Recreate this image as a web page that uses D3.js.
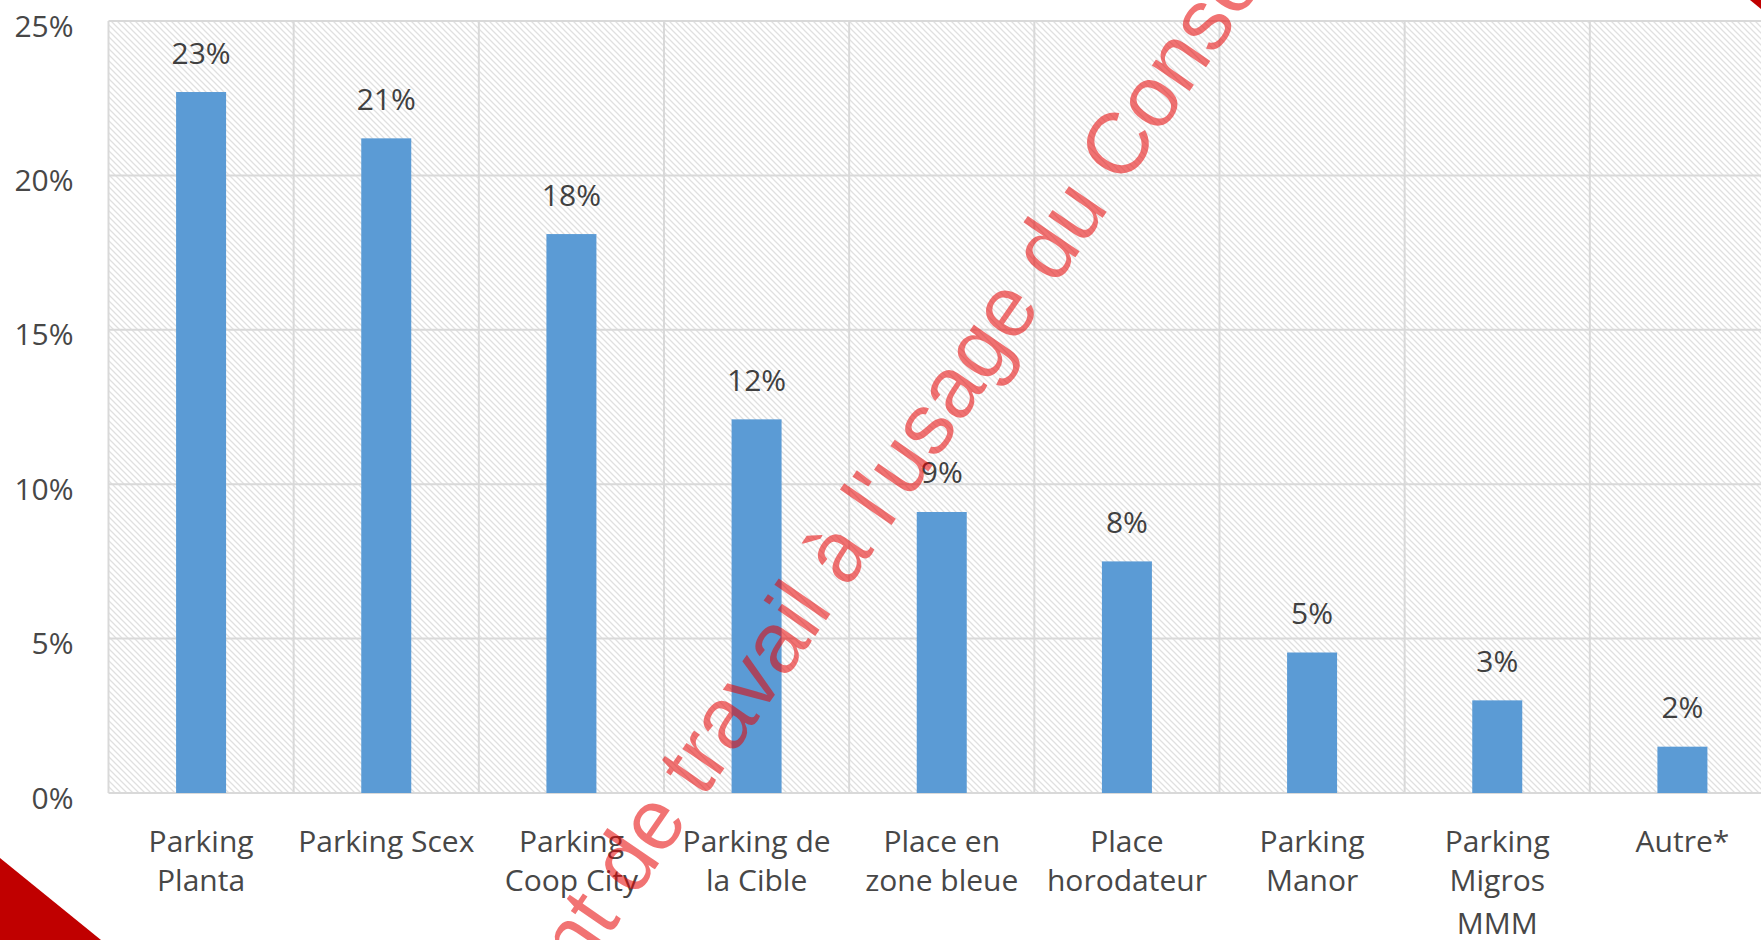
<!DOCTYPE html>
<html>
<head>
<meta charset="utf-8">
<script src="https://cdn.jsdelivr.net/npm/d3@7"></script>
<style>
  html, body { margin: 0; padding: 0; background: #ffffff; overflow: hidden; }
  svg { display: block; }
</style>
</head>
<body>
<svg id="chart" width="1761" height="940"></svg>
<script>
// ---- data ----
const categories = [
  "Parking\nPlanta",
  "Parking Scex",
  "Parking\nCoop City",
  "Parking de\nla Cible",
  "Place en\nzone bleue",
  "Place\nhorodateur",
  "Parking\nManor",
  "Parking\nMigros\nMMM",
  "Autre*"
];
const values = [22.7, 21.2, 18.1, 12.1, 9.1, 7.5, 4.55, 3.0, 1.5];
const valueLabels = ["23%", "21%", "18%", "12%", "9%", "8%", "5%", "3%", "2%"];
const yTicks = [0, 5, 10, 15, 20, 25];
const yTickLabels = ["0%", "5%", "10%", "15%", "20%", "25%"];
const watermarkText = "Document de travail à l'usage du Conseil";

// ---- layout ----
const svg = d3.select("#chart");
const plotLeft = 108.5, plotRight = 1775, plotTop = 21, plotBottom = 793;
const font = "'Open Sans', sans-serif";
const textColor = "#474747";
const gridColor = "#d9d9d9";
const lineOffsets = [0, 39, 82];

const x = d3.scaleBand().domain(categories).range([plotLeft, plotRight]).padding(0);
const y = d3.scaleLinear().domain([0, 25]).range([plotBottom, plotTop]);
const barFrac = 0.27;

// hatch pattern
const defs = svg.append("defs");
const pat = defs.append("pattern")
  .attr("id", "hatch").attr("patternUnits", "userSpaceOnUse")
  .attr("width", 6).attr("height", 6);
pat.append("path")
  .attr("d", "M-1,-1 L7,7 M-4,2 L1,7 M5,-1 L7,1")
  .attr("stroke", "#e0e0e0").attr("stroke-width", 1.3).attr("fill", "none");

svg.append("rect")
  .attr("x", plotLeft).attr("y", plotTop)
  .attr("width", plotRight - plotLeft).attr("height", plotBottom - plotTop)
  .attr("fill", "url(#hatch)");

// horizontal gridlines
svg.append("g").selectAll("line").data(yTicks).join("line")
  .attr("x1", plotLeft).attr("x2", plotRight)
  .attr("y1", d => y(d)).attr("y2", d => y(d))
  .attr("stroke", gridColor).attr("stroke-width", 2);

// vertical gridlines (category boundaries)
const bounds = categories.map(c => x(c)).concat([x(categories[categories.length - 1]) + x.bandwidth()]);
svg.append("g").selectAll("line").data(bounds).join("line")
  .attr("x1", d => d).attr("x2", d => d)
  .attr("y1", plotTop).attr("y2", plotBottom)
  .attr("stroke", gridColor).attr("stroke-width", 2);

// bars
const bw = x.bandwidth() * barFrac;
svg.append("g").selectAll("rect").data(values).join("rect")
  .attr("x", (d, i) => x(categories[i]) + (x.bandwidth() - bw) / 2)
  .attr("y", d => y(d))
  .attr("width", bw)
  .attr("height", d => y(0) - y(d))
  .attr("fill", "#5b9bd5");

// value labels
svg.append("g").selectAll("text").data(values).join("text")
  .attr("x", (d, i) => x(categories[i]) + x.bandwidth() / 2)
  .attr("y", d => y(d) - 28.5)
  .attr("text-anchor", "middle")
  .attr("font-family", font).attr("font-size", 30)
  .attr("fill", "#404040")
  .text((d, i) => valueLabels[i]);

// y axis
const yAxis = d3.axisLeft(y).tickValues(yTicks)
  .tickFormat((d, i) => yTickLabels[i]).tickSize(0).tickPadding(35);
const gy = svg.append("g").attr("transform", `translate(${plotLeft},0)`).call(yAxis);
gy.select(".domain").remove();
gy.selectAll("text")
  .attr("font-family", font).attr("font-size", 30)
  .attr("fill", textColor).attr("dy", "0.5em");

// x axis labels (multi-line)
const xAxis = d3.axisBottom(x).tickSize(0).tickFormat("");
const gx = svg.append("g").attr("transform", `translate(0,${plotBottom})`).call(xAxis);
gx.select(".domain").remove();
gx.selectAll(".tick").each(function(d) {
  const t = d3.select(this).append("text")
    .attr("text-anchor", "middle")
    .attr("font-family", font).attr("font-size", 30)
    .attr("fill", textColor);
  d.split("\n").forEach((line, i) => {
    t.append("tspan").attr("x", 0).attr("y", 59 + lineOffsets[i]).text(line);
  });
});

// decorative corner triangles
svg.append("polygon").attr("points", "0,858 0,940 101,940").attr("fill", "#c00000");
svg.append("polygon").attr("points", "1750,0 1761,0 1761,9").attr("fill", "#c00000");

// watermark
svg.append("text")
  .attr("transform", "translate(398,1243) rotate(-55.5)")
  .attr("font-family", "'Liberation Sans', Arial, sans-serif")
  .attr("font-size", 86.5)
  .attr("fill", "#e60000").attr("fill-opacity", 0.55)
  .text(watermarkText);
</script>
</body>
</html>
